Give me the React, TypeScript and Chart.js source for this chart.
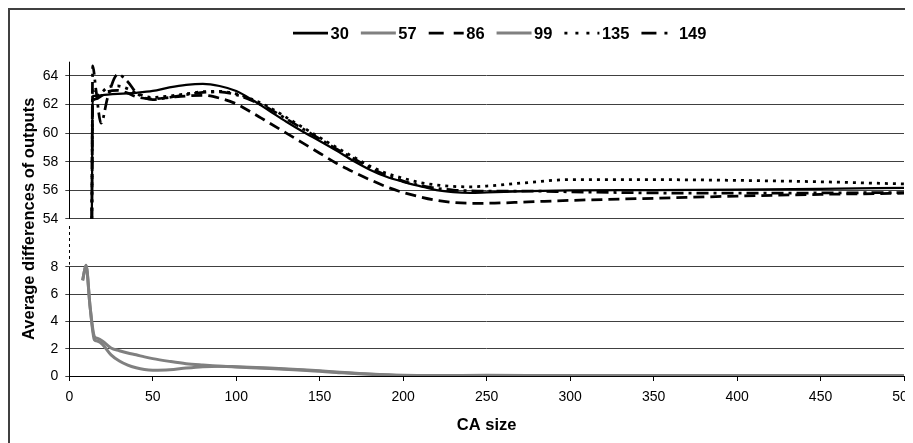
import React, { useEffect, useRef } from "react";
import { Chart, registerables } from "chart.js";

Chart.register(...registerables);

// ---- Data (real values) ----
const upperX = [13.5, 14, 16, 19, 23, 29, 35, 40, 50, 60, 70, 80, 90, 100, 110, 120, 130, 140, 150, 160, 170, 180, 190, 200, 210, 220, 230, 240, 250, 275, 300, 350, 400, 450, 500];
const series30 = [54, 62.6, 62.6, 62.65, 62.7, 62.75, 62.78, 62.82, 62.95, 63.2, 63.38, 63.45, 63.3, 62.95, 62.3, 61.55, 60.8, 60.1, 59.45, 58.78, 58.07, 57.45, 56.95, 56.6, 56.3, 56.02, 55.88, 55.83, 55.86, 55.95, 56.0, 56.02, 56.05, 56.1, 56.18];
const series86 = [54, 62.2, 62.4, 62.6, 62.9, 63.0, 62.8, 62.55, 62.4, 62.5, 62.6, 62.65, 62.45, 62.05, 61.4, 60.7, 60.0, 59.3, 58.6, 57.9, 57.3, 56.75, 56.25, 55.85, 55.55, 55.3, 55.15, 55.1, 55.1, 55.2, 55.3, 55.45, 55.6, 55.72, 55.8];
const series135 = [54, 63.0, 62.6, 62.8, 63.2, 63.3, 63.1, 62.8, 62.5, 62.6, 62.75, 62.9, 62.92, 62.75, 62.35, 61.8, 61.1, 60.4, 59.7, 59.0, 58.35, 57.7, 57.2, 56.85, 56.55, 56.38, 56.28, 56.25, 56.3, 56.55, 56.75, 56.75, 56.7, 56.6, 56.45];
const series149 = [54, 64.7, 63.0, 60.7, 62.5, 64.1, 63.6, 62.85, 62.35, 62.5, 62.7, 62.85, 62.88, 62.68, 62.25, 61.7, 61.0, 60.3, 59.6, 58.9, 58.25, 57.6, 57.05, 56.65, 56.35, 56.15, 56.02, 55.97, 55.95, 55.95, 55.9, 55.82, 55.8, 55.82, 55.85];

const lowerX = [8, 10, 12.5, 15, 17, 20, 25, 30, 35, 40, 45, 50, 60, 70, 80, 90, 100, 120, 140, 150, 160, 180, 200, 220, 250, 300, 350, 400, 450, 500];
const series57 = [7.0, 8.1, 5.0, 2.65, 2.55, 2.3, 1.55, 1.1, 0.8, 0.6, 0.47, 0.42, 0.45, 0.58, 0.68, 0.72, 0.68, 0.58, 0.45, 0.38, 0.3, 0.15, 0.05, 0.03, 0.05, 0.03, 0.03, 0.03, 0.04, 0.03];
const series99 = [7.0, 8.1, 5.0, 2.9, 2.75, 2.55, 2.05, 1.85, 1.68, 1.55, 1.4, 1.27, 1.07, 0.9, 0.8, 0.72, 0.66, 0.55, 0.42, 0.34, 0.26, 0.12, 0.04, 0.02, 0.02, 0.03, 0.03, 0.03, 0.04, 0.04];

const lowerTickValues = [0, 2, 4, 6, 8];
const upperTickValues = [54, 56, 58, 60, 62, 64];
const xTickStep = 50;
const xMin = 0;
const xMax = 500;

const xTitle = "CA size";
const yTitle = "Average differences of outputs";

// ---- Broken-axis mapping ----
const BREAK_BASE = 11.49;
const UPPER_K = 1.0466;
const Y_MAX = 23;
const toAxis = (v: number) => (v >= 54 ? BREAK_BASE + (v - 54) * UPPER_K : v);
const fromAxis = (t: number) => (t > 10 ? 54 + (t - BREAK_BASE) / UPPER_K : t);

const FONT = "'Liberation Sans', Arial, sans-serif";

const seriesDefs = [
  { label: "30", xs: upperX, ys: series30, color: "#000000", width: 2.25, dash: [] as number[], legendDash: [] as number[] },
  { label: "57", xs: lowerX, ys: series57, color: "#808080", width: 3, dash: [], legendDash: [] },
  { label: "86", xs: upperX, ys: series86, color: "#000000", width: 2.75, dash: [11, 6], legendDash: [15, 10] },
  { label: "99", xs: lowerX, ys: series99, color: "#808080", width: 3, dash: [], legendDash: [] },
  { label: "135", xs: upperX, ys: series135, color: "#000000", width: 2.75, dash: [3, 5], legendDash: [3, 8] },
  { label: "149", xs: upperX, ys: series149, color: "#000000", width: 2.75, dash: [12, 5, 3, 5], legendDash: [15, 8, 3, 100] },
];

const decorPlugin = {
  id: "decor",
  afterDraw(chart: any) {
    const ctx: CanvasRenderingContext2D = chart.ctx;
    const ca = chart.chartArea;
    const ys = chart.scales.y;
    ctx.save();
    // y axis line with break
    const ax = Math.round(ca.left) + 0.5;
    const p54 = ys.getPixelForValue(toAxis(54));
    const p8 = ys.getPixelForValue(toAxis(8));
    ctx.strokeStyle = "#000";
    ctx.lineWidth = 1;
    ctx.setLineDash([]);
    ctx.beginPath();
    ctx.moveTo(ax, ca.top);
    ctx.lineTo(ax, p54);
    ctx.moveTo(ax, p8);
    ctx.lineTo(ax, ca.bottom);
    ctx.stroke();
    ctx.setLineDash([3, 3]);
    ctx.beginPath();
    ctx.moveTo(ax, p54 + 7);
    ctx.lineTo(ax, p8 - 2);
    ctx.stroke();
    ctx.setLineDash([]);

    // titles
    ctx.fillStyle = "#000";
    ctx.font = `bold 16.5px ${FONT}`;
    ctx.textAlign = "center";
    ctx.textBaseline = "middle";
    ctx.fillText(xTitle, (ca.left + ca.right) / 2, 415);
    ctx.save();
    ctx.translate(19, (ca.top + ca.bottom) / 2);
    ctx.rotate(-Math.PI / 2);
    ctx.fillText(yTitle, 0, 0);
    ctx.restore();

    // legend
    ctx.font = `bold 16.5px ${FONT}`;
    ctx.textAlign = "left";
    let x = 283;
    const ly = 23;
    seriesDefs.forEach((d) => {
      ctx.strokeStyle = d.color;
      ctx.lineWidth = d.color === "#808080" ? 3 : 2.75;
      ctx.setLineDash(d.legendDash);
      ctx.beginPath();
      ctx.moveTo(x, ly);
      ctx.lineTo(x + 35, ly);
      ctx.stroke();
      ctx.setLineDash([]);
      x += 37.5;
      ctx.fillStyle = "#000";
      ctx.fillText(d.label, x, ly + 1);
      x += ctx.measureText(d.label).width + 12;
    });
    ctx.restore();
  },
};

export default function App() {
  const ref = useRef<HTMLCanvasElement | null>(null);
  useEffect(() => {
    document.documentElement.style.overflow = "hidden";
    document.body.style.overflow = "hidden";
    const canvas = ref.current;
    if (!canvas) return;
    const chart = new Chart(canvas, {
      type: "line",
      data: {
        datasets: seriesDefs.map((d) => ({
          label: d.label,
          data: d.xs.map((x, i) => ({ x, y: toAxis(d.ys[i]) })),
          borderColor: d.color,
          backgroundColor: d.color,
          borderWidth: d.width,
          borderDash: d.dash,
          pointRadius: 0,
          fill: false,
          tension: 0.4,
          cubicInterpolationMode: "monotone" as const,
        })),
      },
      options: {
        responsive: false,
        animation: false,
        events: [],
        layout: { padding: { top: 51.7, right: 9, left: 0, bottom: 0 } },
        plugins: { legend: { display: false }, tooltip: { enabled: false } },
        scales: {
          x: {
            type: "linear",
            min: xMin,
            max: xMax,
            ticks: { stepSize: xTickStep, font: { family: FONT, size: 14 }, color: "#000", padding: 8, maxRotation: 0, autoSkip: false },
            grid: { drawOnChartArea: false, drawTicks: true, tickLength: 5, tickColor: "#000" },
            border: { display: true, color: "#000", width: 1 },
            afterFit: (s: any) => {
              s.height = 67;
              s.paddingLeft = 0;
              s.paddingRight = 0;
            },
          },
          y: {
            type: "linear",
            min: 0,
            max: Y_MAX,
            afterBuildTicks: (s: any) => {
              s.ticks = [...lowerTickValues, ...upperTickValues].map((v) => ({ value: toAxis(v) }));
            },
            ticks: {
              callback: (v: any) => String(Math.round(fromAxis(Number(v)))),
              font: { family: FONT, size: 14 },
              color: "#000",
              padding: 7,
              autoSkip: false,
            },
            grid: { color: "#404040", lineWidth: 1, tickLength: 4, tickColor: "#404040", drawTicks: true },
            border: { display: false },
            afterFit: (s: any) => {
              s.width = 59.3;
              s.paddingTop = 0;
              s.paddingBottom = 0;
            },
          },
        },
      },
      plugins: [decorPlugin],
    } as any);
    return () => chart.destroy();
  }, []);

  return (
    <div
      style={{
        width: 905,
        height: 435,
        boxSizing: "border-box",
        borderTop: "2px solid #404040",
        borderLeft: "2px solid #404040",
        overflow: "hidden",
        background: "#fff",
      }}
    >
      <canvas ref={ref} width={903} height={433} style={{ display: "block" }} />
    </div>
  );
}
